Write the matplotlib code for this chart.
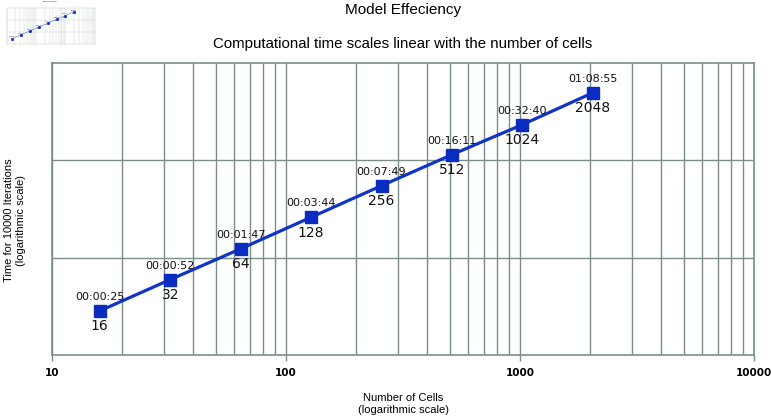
import matplotlib

matplotlib.use("Agg")

import matplotlib.pyplot as plt
from matplotlib.ticker import FixedLocator, NullFormatter, NullLocator

# cells vs. time for 10000 iterations
cells = [16, 32, 64, 128, 256, 512, 1024, 2048]
times = ["00:00:25", "00:00:52", "00:01:47", "00:03:44",
         "00:07:49", "00:16:11", "00:32:40", "01:08:55"]
x_ticks = [10, 100, 1000, 10000]
x_ticklabels = ["10", "100", "1000", "10000"]
y_min, y_max = 8.9, 8300  # seconds


def to_seconds(t):
    h, m, s = (int(v) for v in t.split(":"))
    return h * 3600 + m * 60 + s


secs = [to_seconds(t) for t in times]

GRID = "#7a8d89"
BLUE = "#1034c8"
MARK = "#0a2cc0"


def draw(ax, scale=1.0, labels=True):
    ax.set_xscale("log")
    ax.set_yscale("log")
    ax.set_xlim(10, 10000)
    ax.set_ylim(y_min, y_max)
    ax.xaxis.set_major_locator(FixedLocator(x_ticks))
    ax.xaxis.set_minor_locator(FixedLocator(
        [m * 10 ** e for e in range(1, 4) for m in range(2, 10)]))
    ax.xaxis.set_minor_formatter(NullFormatter())
    # three equal divisions of the (log) y range
    k = (y_max / y_min) ** (1 / 3)
    ax.yaxis.set_major_locator(FixedLocator([y_min * k, y_min * k * k]))
    ax.yaxis.set_minor_locator(NullLocator())
    ax.grid(True, which="both", axis="x", color=GRID, lw=1.0 * scale)
    ax.grid(True, which="major", axis="y", color=GRID, lw=1.0 * scale)
    ax.tick_params(axis="y", left=False, labelleft=False)
    ax.tick_params(axis="x", which="minor", length=0)
    ax.tick_params(axis="x", which="major", length=4 * scale, width=1 * scale,
                   color=GRID, labelsize=7.5 * scale, pad=5 * scale)
    ax.set_xticklabels(x_ticklabels if labels else ["" for _ in x_ticks])
    for sp in ax.spines.values():
        sp.set_color(GRID)
        sp.set_linewidth(1.2 * scale)
    ax.plot(cells, secs, color=BLUE, lw=2.3 * scale, marker="s",
            ms=8 * scale, mfc=MARK, mec=MARK, zorder=3)
    for c, s, t in zip(cells, secs, times):
        ax.annotate(t, (c, s), xytext=(0, 6.5 * scale), textcoords="offset points",
                    ha="center", va="bottom", fontsize=8 * scale,
                    family="DejaVu Sans", color="#111111")
        ax.annotate(str(c), (c, s), xytext=(0, -6 * scale), textcoords="offset points",
                    ha="center", va="top", fontsize=10 * scale,
                    family="DejaVu Sans", color="#111111")


fig = plt.figure(figsize=(7.71, 4.18), dpi=100)
ax = fig.add_axes([52 / 771, 1 - 355 / 418, 702 / 771, 292 / 418])
draw(ax)
for lbl in ax.get_xticklabels():
    lbl.set_fontweight("bold")
    lbl.set_family("DejaVu Sans")

fig.text(403 / 771, 1 - 10 / 418, "Model Effeciency", ha="center", va="center",
         fontsize=11, family="Liberation Sans")
fig.text(403 / 771, 1 - 44 / 418,
         "Computational time scales linear with the number of cells",
         ha="center", va="center", fontsize=10.8, family="Liberation Sans")
fig.text(403 / 771, 1 - 404 / 418, "Number of Cells\n(logarithmic scale)",
         ha="center", va="center", fontsize=8, family="Liberation Sans",
         linespacing=1.15)
fig.text(15 / 771, 1 - 220 / 418, "Time for 10000 Iterations\n(logarithmic scale)",
         ha="center", va="center", rotation=90, fontsize=8,
         family="Liberation Sans", linespacing=1.15)

# small thumbnail preview in the upper-left corner
thumb = fig.add_axes([6.5 / 771, 1 - 44 / 418, 88 / 771, 36 / 418])
draw(thumb, scale=0.125, labels=False)
fig.text(50 / 771, 1 - 2 / 418, "Model Effeciency", ha="center", va="center",
         fontsize=1.4, family="Liberation Sans")

fig.savefig("out.png", dpi=100)
